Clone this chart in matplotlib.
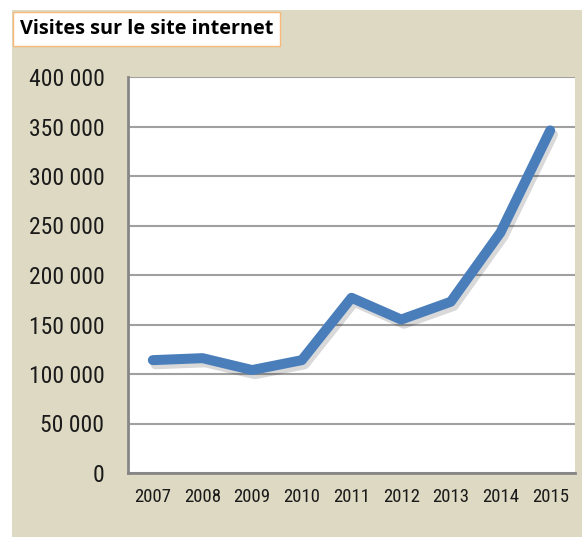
import matplotlib
matplotlib.use("Agg")
import matplotlib.pyplot as plt
import matplotlib.patheffects as pe
from matplotlib.patches import Rectangle
from matplotlib.font_manager import fontManager

years = ["2007", "2008", "2009", "2010", "2011", "2012", "2013", "2014", "2015"]
visits = [114000, 116000, 104000, 114000, 177000, 155000, 173000, 243000, 346000]
yticks = [0, 50000, 100000, 150000, 200000, 250000, 300000, 350000, 400000]
title = "Visites sur le site internet"

names = {f.name for f in fontManager.ttflist}
narrow = next((n for n in ["Liberation Sans Narrow", "Roboto Condensed", "Open Sans Condensed"]
               if n in names), None)
tick_font = narrow or "Liberation Sans"
ysize, xsize = (17, 13.5) if narrow else (16, 12)

W, H = 582, 537
fig = plt.figure(figsize=(W / 100, H / 100), dpi=100, facecolor="white")

# beige panel
fig.patches.append(Rectangle((12 / W, 0), 1 - 12 / W, 1 - 10 / H, transform=fig.transFigure,
                             facecolor="#ddd9c3", edgecolor="none", zorder=-10))

ax = fig.add_axes([128 / W, 64 / H, 447 / W, 396 / H])
ax.set_facecolor("white")

x = list(range(len(years)))
ax.plot(x, visits, color="#4a7ebb", lw=7.2, solid_capstyle="round", solid_joinstyle="round",
        zorder=3,
        path_effects=[pe.SimpleLineShadow(offset=(2, -3), shadow_color="#000000", alpha=0.15),
                      pe.Normal()])

ax.set_xlim(-0.5, len(years) - 0.5)
ax.set_ylim(0, 400000)
ax.set_xticks(x)
ax.set_xticklabels(years, fontsize=xsize, family=tick_font, color="#1a1a1a")
ax.set_yticks(yticks)
ax.set_yticklabels([f"{v:,}".replace(",", " ") for v in yticks], fontsize=ysize,
                   family=tick_font, color="#1a1a1a")
ax.tick_params(axis="both", length=0)
ax.tick_params(axis="y", pad=17)
ax.tick_params(axis="x", pad=11)

ax.grid(axis="y", color="#a0a0a0", lw=1.5)
ax.set_axisbelow(True)
for s in ["top", "right"]:
    ax.spines[s].set_visible(False)
for s in ["left", "bottom"]:
    ax.spines[s].set_color("#868686")
    ax.spines[s].set_linewidth(2)

# title box
fig.text(20 / W, 1 - 29 / H, title, fontsize=14.3, fontweight="bold", family="Open Sans",
         va="center", ha="left", color="black",
         bbox=dict(boxstyle="square,pad=0.33", facecolor="white", edgecolor="#f9b97a", lw=1))

fig.savefig("out.png", dpi=100, facecolor=fig.get_facecolor())
